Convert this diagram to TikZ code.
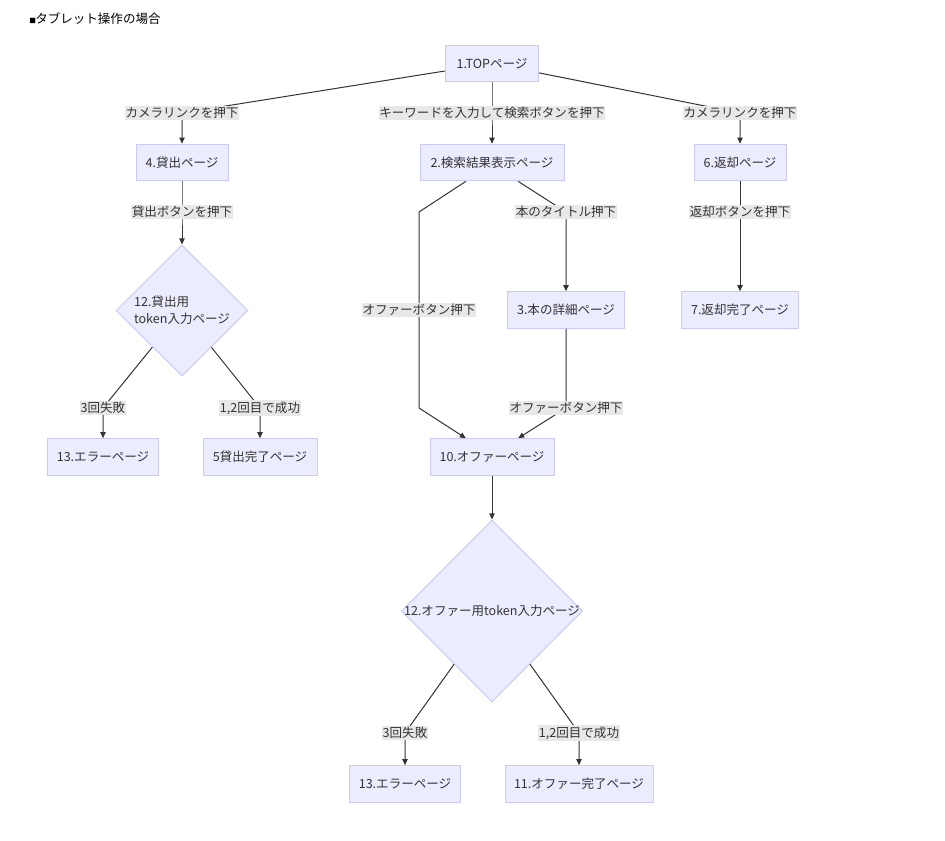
\documentclass[tikz,border=0pt]{standalone}
\usepackage{fontspec}
\setmainfont{Noto Sans CJK JP}
\usetikzlibrary{shapes.geometric,arrows.meta,calc}
\definecolor{nodefill}{HTML}{ECECFF}
\definecolor{nodeline}{HTML}{CACAF8}
\definecolor{labfill}{HTML}{E8E8E8}
\definecolor{ink}{HTML}{333333}
\begin{document}
\begin{tikzpicture}[x=0.75pt,y=-0.75pt,
  font=\fontsize{9.4pt}{13pt}\selectfont, text=ink,
  box/.style={draw=nodeline, fill=nodefill, line width=0.75pt, minimum width=#1*0.75pt, minimum height=27.5pt, inner sep=0pt},
  dec/.style 2 args={diamond, draw=nodeline, fill=nodefill, line width=0.75pt, minimum width=#1*0.75pt, minimum height=#2*0.75pt, inner sep=0pt},
  elab/.style={fill=labfill, inner xsep=0.5pt, inner ysep=1pt},
  conn/.style={draw=ink, line width=0.75pt, -{Triangle[length=4.5pt,width=4pt]}}]
\useasboundingbox (0,0) rectangle (945,841);
\node[anchor=base west, inner sep=0pt, text=black] (title) at (29,23.5) {{\fontsize{5pt}{5pt}\selectfont ■}\hspace{-0.5pt}タブレット操作の場合};
% boxes
\node[box=93] (n1) at (492,63.5) {1.TOPページ};
\node[box=92] (n4) at (182,162.5) {4.貸出ページ};
\node[box=144] (n2) at (492,162.5) {2.検索結果表示ページ};
\node[box=92] (n6) at (740,162.5) {6.返却ページ};
\node[box=117] (n3) at (566,310) {3.本の詳細ページ};
\node[box=117] (n7) at (740,310) {7.返却完了ページ};
\node[dec={132}{131}, label={[align=left]center:12.貸出用\\token入力ページ}] (d1) at (182,310.5) {};
\node[box=111] (n13a) at (103,457) {13.エラーページ};
\node[box=114] (n5) at (260,457) {5貸出完了ページ};
\node[box=124] (n10) at (492,457) {10.オファーページ};
\node[dec={181}{182}, label={center:12.オファー用token入力ページ}] (d2) at (492,611) {};
\node[box=111] (n13b) at (405,784) {13.エラーページ};
\node[box=148] (n11) at (579,784) {11.オファー完了ページ};
% label positions
\coordinate (c1) at (182,113);
\coordinate (c2) at (492,113);
\coordinate (c3) at (740,113);
\coordinate (c4) at (182,212);
\coordinate (c5) at (419,310);
\coordinate (c6) at (566,212);
\coordinate (c7) at (740,212);
\coordinate (c8) at (103,408);
\coordinate (c9) at (260,408);
\coordinate (c10) at (566,408);
\coordinate (c11) at (405,733);
\coordinate (c12) at (579,733);
\coordinate (b1) at (419,212);
\coordinate (b2) at (419,408);
% connectors
\draw[conn] (n1) -- (c1) -- (n4);
\draw[conn] (n1) -- (c2) -- (n2);
\draw[conn] (n1) -- (c3) -- (n6);
\draw[conn] (n4) -- (c4) -- (d1);
\draw[conn] ($(n2.south west)!0.32!(n2.south east)$) -- (b1) -- (b2) -- ($(n10.north west)!0.29!(n10.north east)$);
\draw[conn] ($(n2.south west)!0.68!(n2.south east)$) -- (c6) -- (n3);
\draw[conn] (n6) -- (c7) -- (n7);
\draw[conn] (d1) -- (c8) -- (n13a);
\draw[conn] (d1) -- (c9) -- (n5);
\draw[conn] (n3) -- (c10) -- ($(n10.north west)!0.71!(n10.north east)$);
\draw[conn] (n10) -- (d2);
\draw[conn] (d2) -- (c11) -- (n13b);
\draw[conn] (d2) -- (c12) -- (n11);
% edge labels
\node[elab] (l1) at (c1) {カメラリンクを押下};
\node[elab] (l2) at (c2) {キーワードを入力して検索ボタンを押下};
\node[elab] (l3) at (c3) {カメラリンクを押下};
\node[elab] (l4) at (c4) {貸出ボタンを押下};
\node[elab] (l5) at (c5) {オファーボタン押下};
\node[elab] (l6) at (c6) {本のタイトル押下};
\node[elab] (l7) at (c7) {返却ボタンを押下};
\node[elab] (l8) at (c8) {3回失敗};
\node[elab] (l9) at (c9) {1,2回目で成功};
\node[elab] (l10) at (c10) {オファーボタン押下};
\node[elab] (l11) at (c11) {3回失敗};
\node[elab] (l12) at (c12) {1,2回目で成功};
\end{tikzpicture}
\end{document}
